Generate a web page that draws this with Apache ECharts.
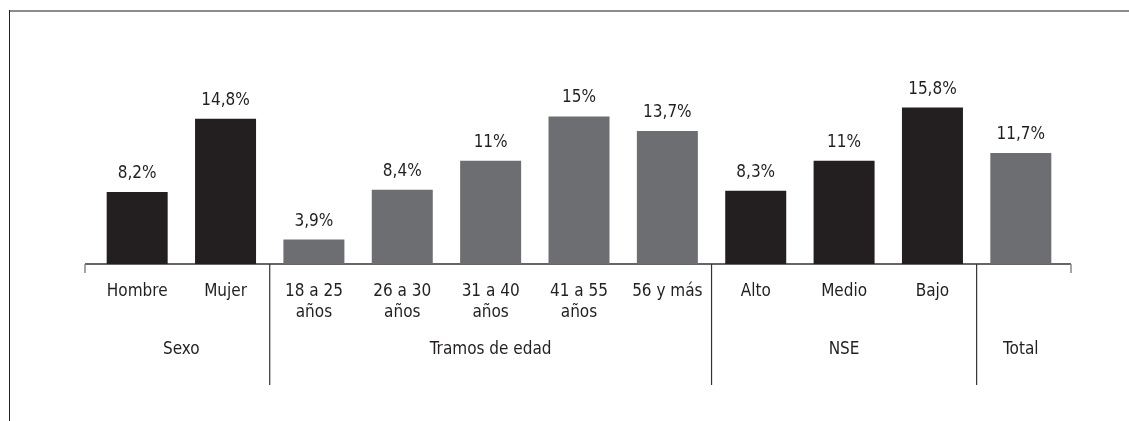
<!DOCTYPE html>
<html>
<head>
<meta charset="utf-8">
<script src="https://cdn.jsdelivr.net/npm/echarts@6/dist/echarts.min.js"></script>
<style>
  html, body { margin: 0; padding: 0; background: #fff; }
  #chart { width: 1129px; height: 421px; }
</style>
</head>
<body>
<div id="chart"></div>
<script>
// datos
const categories = ['Hombre', 'Mujer', '18 a 25\naños', '26 a 30\naños', '31 a 40\naños',
  '41 a 55\naños', '56 y más', 'Alto', 'Medio', 'Bajo', 'Total'];
const values = [8.2, 14.8, 3.9, 8.4, 11, 15, 13.7, 8.3, 11, 15.8, 11.7];
const groupNames = ['Sexo', 'Tramos de edad', 'NSE', 'Total'];
const groupStart = [0, 2, 7, 10];
const groupEnd = [1, 6, 9, 10];

const groupColors = ['#231f20', '#6d6e71', '#231f20', '#6d6e71'];
const FONT = '"Liberation Sans Narrow", "DejaVu Sans Condensed", "Roboto", sans-serif';
const yMin = 1.7;

function groupOf(i) {
  for (let g = 0; g < groupStart.length; g++) {
    if (i >= groupStart[g] && i <= groupEnd[g]) return g;
  }
  return 0;
}

const chart = echarts.init(document.getElementById('chart'));

chart.setOption({
  animation: false,
  grid: { left: 93, right: 64, top: 61, bottom: 157 },
  xAxis: {
    type: 'category',
    data: categories,
    axisLine: { show: false },
    axisTick: { show: false },
    axisLabel: {
      color: '#231f20',
      fontFamily: FONT,
      fontSize: 17,
      lineHeight: 21,
      margin: 17,
      interval: 0,
      // grupos de una sola barra solo llevan el nombre del grupo
      formatter: (v, i) => {
        const g = groupOf(i);
        return groupStart[g] === groupEnd[g] ? '' : v;
      }
    }
  },
  yAxis: {
    type: 'value',
    min: yMin,
    max: 20,
    show: false,
    splitLine: { show: false }
  },
  series: [
    {
      type: 'bar',
      barWidth: 61,
      data: values.map((v, i) => ({
        value: v,
        itemStyle: { color: groupColors[groupOf(i)] }
      })),
      label: {
        show: true,
        position: 'top',
        distance: 10,
        color: '#231f20',
        fontFamily: FONT,
        fontSize: 17,
        formatter: p => String(p.value).replace('.', ',') + '%'
      }
    },
    // linea base con marcas en los extremos
    {
      type: 'custom',
      clip: false,
      silent: true,
      data: [[0, categories.length - 1]],
      encode: { x: [0, 1] },
      renderItem: function (params, api) {
        const a = api.coord([api.value(0), yMin]);
        const b = api.coord([api.value(1), yMin]);
        const band = api.size([1, 0])[0];
        const x0 = a[0] - band / 2 - 8;
        const x1 = b[0] + band / 2 + 6;
        const y = a[1];
        return {
          type: 'group',
          children: [
            { type: 'line', shape: { x1: x0, y1: y, x2: x1, y2: y }, style: { stroke: '#333', lineWidth: 1.5 } },
            { type: 'line', shape: { x1: x0, y1: y, x2: x0, y2: y + 9 }, style: { stroke: '#888', lineWidth: 1.5 } },
            { type: 'line', shape: { x1: x1, y1: y, x2: x1, y2: y + 9 }, style: { stroke: '#888', lineWidth: 1.5 } }
          ]
        };
      }
    },
    // separadores y nombres de grupo
    {
      type: 'custom',
      clip: false,
      silent: true,
      data: groupNames.map((n, g) => [groupStart[g], groupEnd[g], g]),
      encode: { x: [0, 1] },
      renderItem: function (params, api) {
        const s = api.value(0), e = api.value(1), g = api.value(2);
        const a = api.coord([s, yMin]);
        const b = api.coord([e, yMin]);
        const band = api.size([1, 0])[0];
        const left = a[0] - band / 2;
        const children = [{
          type: 'text',
          style: {
            text: groupNames[g],
            x: (a[0] + b[0]) / 2,
            y: a[1] + 86,
            align: 'center',
            verticalAlign: 'middle',
            fill: '#231f20',
            fontFamily: FONT,
            fontSize: 17
          }
        }];
        if (g > 0) {
          children.push({
            type: 'line',
            shape: { x1: left, y1: a[1], x2: left, y2: a[1] + 121 },
            style: { stroke: '#333', lineWidth: 1.2 }
          });
        }
        return { type: 'group', children: children };
      }
    }
  ],
  graphic: [
    { type: 'line', shape: { x1: 9, y1: 11, x2: 1129, y2: 11 }, style: { stroke: '#8c8c8c', lineWidth: 2 } },
    { type: 'line', shape: { x1: 9.5, y1: 10, x2: 9.5, y2: 421 }, style: { stroke: '#231f20', lineWidth: 1 } }
  ]
});
</script>
</body>
</html>
